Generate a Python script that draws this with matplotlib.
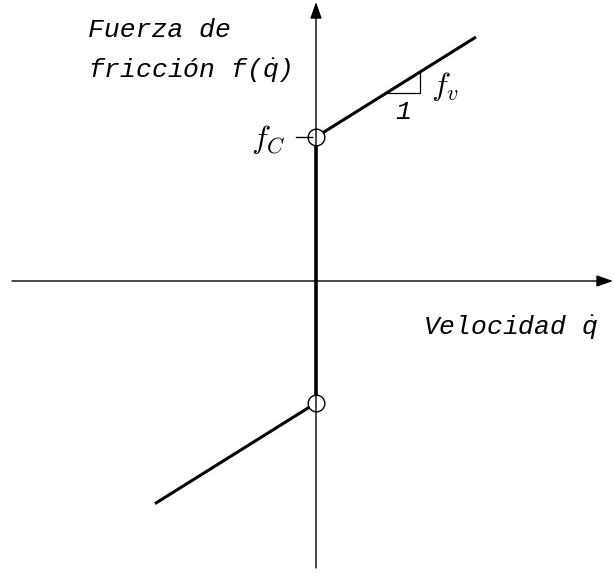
import numpy as np
import matplotlib.pyplot as plt

plt.rcParams['mathtext.fontset'] = 'custom'
plt.rcParams['mathtext.it'] = 'Liberation Mono:italic'
plt.rcParams['mathtext.rm'] = 'Liberation Mono'

# Coulomb + viscous friction model
f_c_pos = 1.44   # Coulomb level, positive velocity
f_c_neg = 1.22   # Coulomb level, negative velocity
f_v = 0.625      # viscous slope
q_pos = np.array([0.0, 1.60])
q_neg = np.array([-1.61, 0.0])

fig = plt.figure(figsize=(6.13, 5.75), dpi=100)
ax = fig.add_axes([0, 0, 1, 1])
ax.set_xlim(-3.16, 2.97)
ax.set_ylim(-2.94, 2.81)
ax.axis('off')

# axes with arrow heads
ax.annotate('', xy=(2.97, 0), xytext=(-3.04, 0),
            arrowprops=dict(arrowstyle='-|>,head_length=1.0,head_width=0.35',
                            color='black', lw=1.0, shrinkA=0, shrinkB=0))
ax.annotate('', xy=(0, 2.79), xytext=(0, -2.87),
            arrowprops=dict(arrowstyle='-|>,head_length=1.0,head_width=0.35',
                            color='black', lw=1.0, shrinkA=0, shrinkB=0))

# friction curve
ax.plot(q_pos, f_c_pos + f_v * q_pos, color='black', lw=2.2, solid_capstyle='butt')
ax.plot(q_neg, -f_c_neg + f_v * q_neg, color='black', lw=2.2, solid_capstyle='butt')
ax.plot([0, 0], [-f_c_neg, f_c_pos], color='black', lw=2.6, solid_capstyle='butt')
ax.plot([0, 0], [f_c_pos, -f_c_neg], 'o', ms=12, mfc='white', mec='black', mew=1.0)

# slope triangle
tx = 0.70
y0 = f_c_pos + f_v * tx
ax.plot([tx, tx + 0.34, tx + 0.34], [y0, y0, y0 + f_v * 0.34],
        color='black', lw=0.9)
ax.text(tx + 0.17, y0 - 0.07, '1', fontsize=19, ha='center', va='top',
        family='Liberation Mono', style='italic')
ax.text(tx + 0.45, y0 + 0.07, r'$f_v$', fontsize=23,
        ha='left', va='center', math_fontfamily='cm')

# f_c tick and label
ax.plot([-0.20, -0.04], [f_c_pos, f_c_pos], color='black', lw=1.0)
ax.text(-0.30, f_c_pos - 0.03, r'$f_C$', fontsize=23, ha='right', va='center',
        math_fontfamily='cm')

txt = dict(family='Liberation Mono', style='italic', fontsize=19)
ax.text(-2.28, 2.51, 'Fuerza de', ha='left', va='center', **txt)
ax.text(-2.28, 2.11, r'fricción f($\dot{q}$)', ha='left', va='center', **txt)
ax.text(1.07, -0.46, r'Velocidad $\dot{q}$', ha='left', va='center', **txt)

fig.savefig('out.png', dpi=100)
